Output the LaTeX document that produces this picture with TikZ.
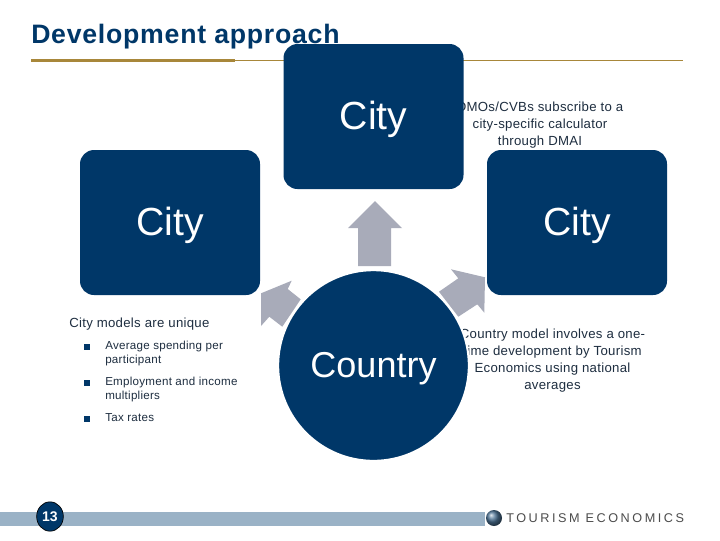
\documentclass[tikz,border=0pt]{standalone}
\usepackage{fontspec}
\usetikzlibrary{shapes.geometric}
\setmainfont{Liberation Sans}
\definecolor{navy}{HTML}{003768}
\definecolor{gold}{HTML}{A8873A}
\definecolor{arrowgrey}{HTML}{A8ABB9}
\definecolor{barblue}{HTML}{9AB2C6}
\definecolor{bodytext}{HTML}{1E2E40}
\newfontfamily\spaced[LetterSpace=2.2]{Liberation Sans}
\newfontfamily\titlefont[LetterSpace=2.8]{Liberation Sans}
\newfontfamily\logofont[LetterSpace=20]{Liberation Sans}
\tikzset{
  x=0.75pt,y=-0.75pt,
  citybox/.style={fill=navy,rounded corners=10.5pt,minimum width=135pt,minimum height=108.75pt,inner sep=0pt,text=white,text height=19.6pt,text depth=0pt,font=\fontsize{29.4}{32}\selectfont},
  blockarrow/.style={fill=arrowgrey,draw=none},
  note/.style={text=bodytext,font=\spaced\fontsize{9.9}{12.75}\selectfont,align=center,inner sep=0pt},
  bullets/.style={text=bodytext,font=\spaced\fontsize{8.7}{10.5}\selectfont,align=left,anchor=west,inner sep=0pt}
}
\begin{document}
\begin{tikzpicture}
\useasboundingbox (0,0) rectangle (720,540);
\fill[white] (0,0) rectangle (720,540);
% title and rules
\node[anchor=west,inner sep=0pt,text=navy] (title) at (31,37) {\titlefont\fontsize{20}{21}\selectfont\bfseries Development approach};
\fill[gold] (31,59) rectangle (235,62);
\fill[gold] (235,59.7) rectangle (683,61);
% texts partly hidden by the shapes
\node[note] (n1) at (540,125) {DMOs/CVBs subscribe to a\\city-specific calculator\\through DMAI};
\node[note] (n2) at (552.5,360.5) {Country model involves a one-\\time development by Tourism\\Economics using national\\averages};
\node[anchor=west,text=bodytext,inner sep=0pt,font=\spaced\fontsize{9.9}{11}\selectfont] (n3) at (69,324) {City models are unique};
\fill[navy] (84,344) rectangle (90,350);
\fill[navy] (84,380) rectangle (90,386);
\fill[navy] (84,415.5) rectangle (90,421.5);
\node[bullets] (b1) at (105,353) {Average spending per\\participant};
\node[bullets] (b2) at (105,389) {Employment and income\\multipliers};
\node[bullets] (b3) at (105,418) {Tax rates};
% arrows
\fill[blockarrow] (261,293.3)--(291.7,280.7)--(287.7,289)--(300.7,299.3)--(282.3,326.7)--(269.3,316.7)--(261,326)--cycle;
\fill[blockarrow] (375,201)--(402,228)--(391,228)--(391,266)--(358,266)--(358,228)--(348,228)--cycle;
\fill[blockarrow] (451,269.3)--(485,277.3)--(484.3,312.7)--(477.3,304.3)--(458.3,316.7)--(439,291.7)--(458.3,278.3)--cycle;
% shapes
\node[citybox] (ctop) at (373.5,116.5) {City};
\node[citybox] (cleft) at (170,222.5) {City};
\node[citybox] (cright) at (577,222.5) {City};
\node[circle,fill=navy,draw=white,line width=1.5pt,minimum size=143pt,inner sep=0pt,text=white,text height=17.6pt,text depth=0pt,font=\fontsize{27}{30}\selectfont] (country) at (373.5,365.5) {Country};
% footer
\fill[barblue] (0,511.5) rectangle (485,526);
\node[ellipse,fill=navy,draw=black,line width=0.5pt,minimum width=20pt,minimum height=22pt,inner sep=0pt,text=white,font=\bfseries\fontsize{10.5}{12}\selectfont] (page) at (50,516.5) {13};
\shade[ball color=navy!70!white] (494,518) circle (8);
\node[anchor=west,inner sep=0pt,text=black!70,font=\logofont\fontsize{9.5}{11}\selectfont] (logo) at (506,518.5) {TOURISM ECONOMICS};
\end{tikzpicture}
\end{document}
